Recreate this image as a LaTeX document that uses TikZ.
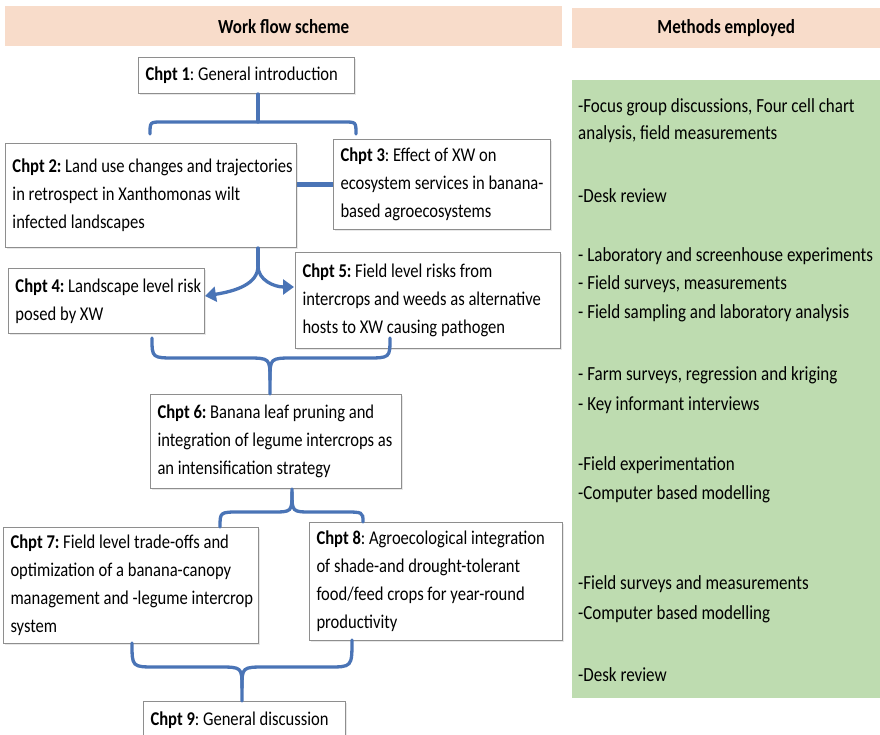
\documentclass[tikz,border=0pt]{standalone}
\usepackage{fontspec}
\setmainfont{Carlito}[FakeStretch=0.85]
\usetikzlibrary{arrows.meta,shadows}
\definecolor{peach}{HTML}{F8DCCA}
\definecolor{sage}{HTML}{BEDCB0}
\definecolor{link}{HTML}{4A74B6}
\definecolor{edgegray}{HTML}{8E8E8E}
\newcommand\oneline[1]{\mbox{#1}}
\begin{document}
\frenchspacing
\begin{tikzpicture}[x=1pt,y=-1pt,
  txt/.style={font=\fontsize{19.5}{28}\selectfont},
  chbox/.style={txt, draw=edgegray, line width=1pt, fill=white, anchor=north west,
     align=flush left, inner xsep=7pt, inner ysep=4pt,
     drop shadow={opacity=0.18, shadow xshift=1.5pt, shadow yshift=-1.5pt}},
  hdr/.style={fill=peach, anchor=north west, font=\fontsize{20}{22}\selectfont\bfseries},
  mtxt/.style={font=\fontsize{20}{28}\selectfont, anchor=west, inner sep=0pt},
  conn/.style={draw=link, line width=3.3pt, line cap=round},
  tip/.style={-{Triangle[width=15pt,length=11pt]}}]
\clip (0,0) rectangle (880,735);
\fill[white] (0,0) rectangle (880,735);

% headers
\node[hdr, minimum width=557pt, minimum height=40pt] (h1) at (5,6) {Work flow scheme};
\node[hdr, minimum width=308pt, minimum height=40pt] (h2) at (572,8) {Methods employed};

% methods panel
\node[fill=sage, anchor=north west, minimum width=308pt, minimum height=618pt, inner sep=0pt] (meth) at (572,80) {};
\node[mtxt] (m1) at (578,107) {-Focus group discussions, Four cell chart};
\node[mtxt] (m2) at (578,134) {analysis, field measurements};
\node[mtxt] (m3) at (578,196) {-Desk review};
\node[mtxt] (m4) at (578,256) {- Laboratory and screenhouse experiments};
\node[mtxt] (m5) at (578,284) {- Field surveys, measurements};
\node[mtxt] (m6) at (578,313) {- Field sampling and laboratory analysis};
\node[mtxt] (m7) at (578,375) {- Farm surveys, regression and kriging};
\node[mtxt] (m8) at (578,405) {- Key informant interviews};
\node[mtxt] (m9) at (578,465) {-Field experimentation};
\node[mtxt] (m10) at (578,494) {-Computer based modelling};
\node[mtxt] (m11) at (578,584) {-Field surveys and measurements};
\node[mtxt] (m12) at (578,614) {-Computer based modelling};
\node[mtxt] (m13) at (578,675) {-Desk review};

% chapter boxes
\node[chbox, minimum width=216pt, minimum height=36pt, text width=202pt] (c1) at (138,57)
  {\oneline{\textbf{Chpt 1}: General introduction}};
\node[chbox, minimum width=291pt, minimum height=104pt, text width=277pt] (c2) at (5,143)
  {\oneline{\textbf{Chpt 2:} Land use changes and trajectories}\\\oneline{in retrospect in Xanthomonas wilt}\\\oneline{infected landscapes}};
\node[chbox, minimum width=217pt, minimum height=90pt, text width=203pt] (c3) at (333,139)
  {\oneline{\textbf{Chpt 3}: Effect of XW on}\\\oneline{ecosystem services in banana-}\\\oneline{based agroecosystems}};
\node[chbox, minimum width=196pt, minimum height=65pt, text width=182pt] (c4) at (8,268)
  {\oneline{\textbf{Chpt 4:} Landscape level risk}\\\oneline{posed by XW}};
\node[chbox, minimum width=265pt, minimum height=96pt, text width=251pt] (c5) at (295,252)
  {\oneline{\textbf{Chpt 5:} Field level risks from}\\\oneline{intercrops and weeds as alternative}\\\oneline{hosts to XW causing pathogen}};
\node[chbox, minimum width=251pt, minimum height=94pt, text width=237pt] (c6) at (150,394)
  {\oneline{\textbf{Chpt 6:} Banana leaf pruning and}\\\oneline{integration of legume intercrops as}\\\oneline{an intensification strategy}};
\node[chbox, minimum width=255pt, minimum height=116pt, text width=241pt] (c7) at (3,527)
  {\oneline{\textbf{Chpt 7:} Field level trade-offs and}\\\oneline{optimization of a banana-canopy}\\\oneline{management and -legume intercrop}\\\oneline{system}};
\node[chbox, minimum width=253pt, minimum height=118pt, text width=239pt] (c8) at (309,522)
  {\oneline{\textbf{Chpt 8}: Agroecological integration}\\\oneline{of shade-and drought-tolerant}\\\oneline{food/feed crops for year-round}\\\oneline{productivity}};
\node[chbox, minimum width=202pt, minimum height=38pt, text width=188pt] (c9) at (143,701)
  {\oneline{\textbf{Chpt 9}: General discussion}};

% connectors
\coordinate (b1) at (258,122);
\draw[conn] (c1.south -| b1) -- (b1);
\draw[conn] (150,134) .. controls (150,122) .. (162,122) -- (344,122) .. controls (356,122) .. (356,134);

\draw[link, line width=5pt] (c3.west -| c2.east) -- (c3.west);

\coordinate (s0) at (258,266);
\coordinate (t4) at (205,296);
\coordinate (t5) at (294,287);
\draw[conn] (c2.south -| s0) -- (s0);
\draw[conn, tip] (s0) .. controls (258,284) and (236,291) .. (t4);
\draw[conn, tip] (s0) .. controls (258,280) and (274,287) .. (t5);

\coordinate (k6) at (270,380);
\draw[conn] (152,338) .. controls (152,358) .. (176,358) -- (246,358) .. controls (270,358) .. (k6) -- (c6.north -| k6);
\draw[conn] (390,338) .. controls (390,358) .. (366,358) -- (294,358) .. controls (270,358) .. (k6);

\coordinate (k7) at (292,492);
\draw[conn] (c6.south -| k7) -- (k7) .. controls (292,512) .. (272,512) -- (240,512) .. controls (220,512) .. (220,527);
\draw[conn] (k7) .. controls (292,512) .. (312,512) -- (343,512) .. controls (363,512) .. (363,522);

\coordinate (k9) at (242,688);
\draw[conn] (132,643) .. controls (132,667) .. (156,667) -- (218,667) .. controls (242,667) .. (k9) -- (c9.north -| k9);
\draw[conn] (352,640) .. controls (352,667) .. (328,667) -- (266,667) .. controls (242,667) .. (k9);
\end{tikzpicture}
\end{document}
